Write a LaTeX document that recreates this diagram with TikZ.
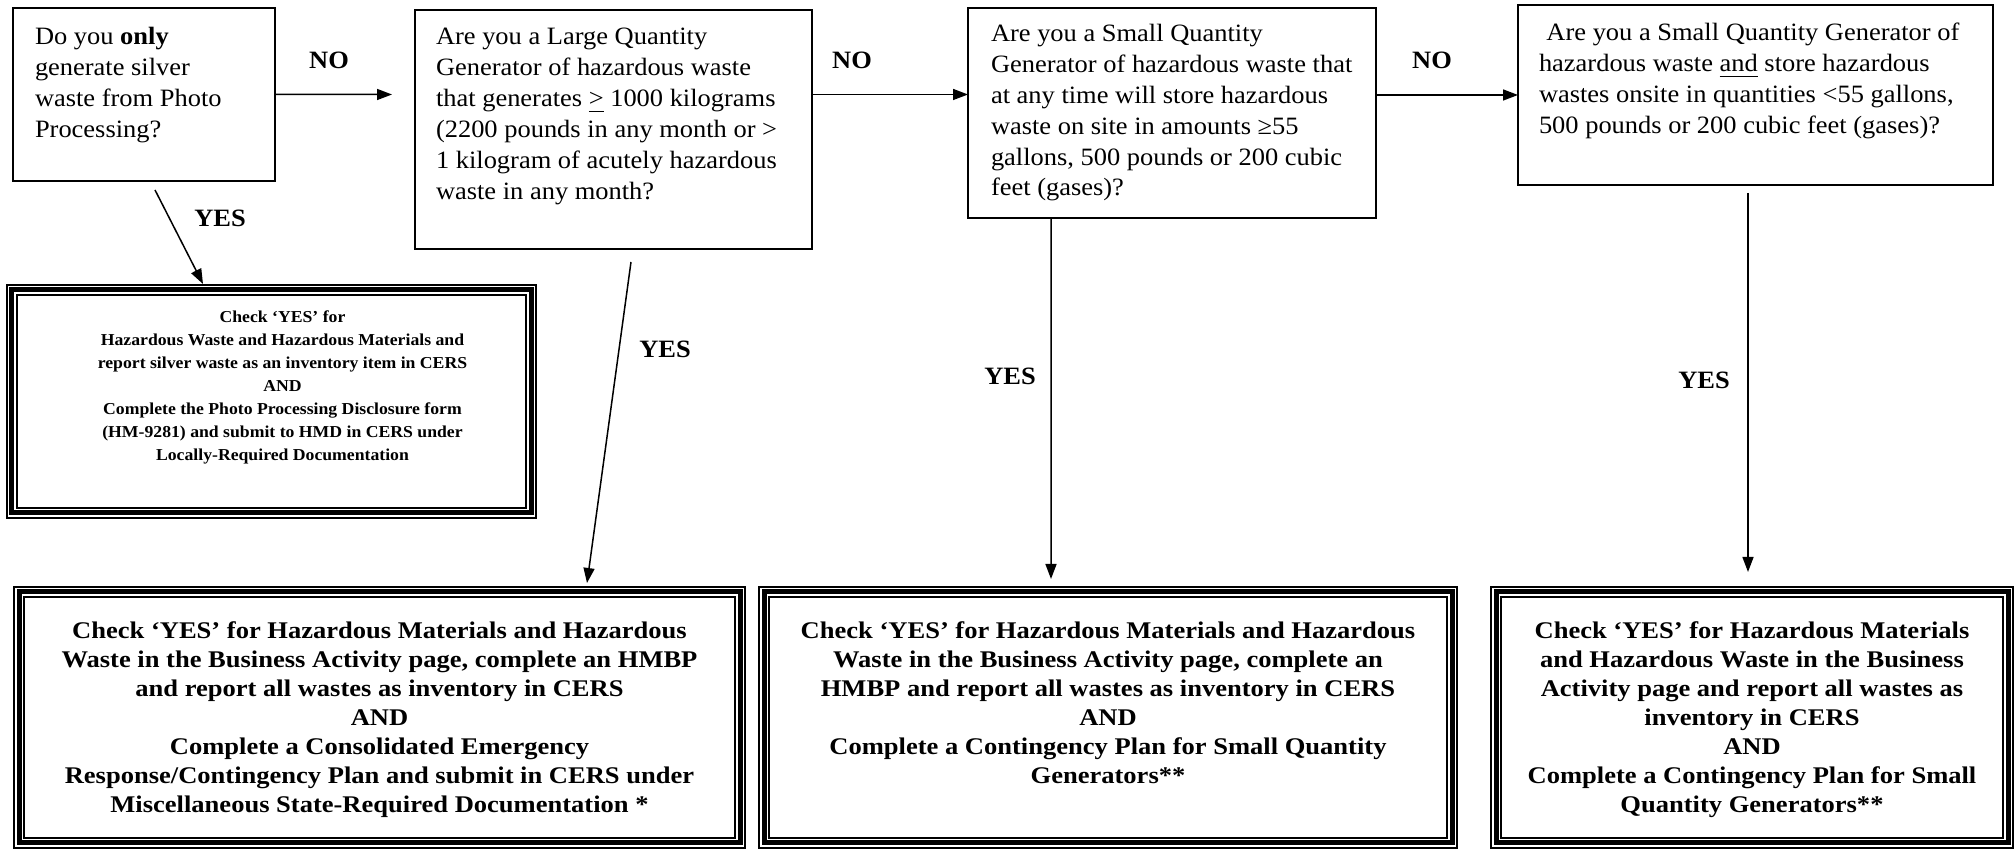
\documentclass[tikz,border=0pt]{standalone}
\usepackage{fontspec}
\setmainfont{Liberation Serif}[FakeStretch=1.06]
\newfontfamily\actfamily{Liberation Serif}[FakeStretch=1.11]
\usetikzlibrary{positioning, arrows.meta, calc}

\newcommand{\qfont}{\fontsize{7.1pt}{8.8pt}\selectfont}
\newcommand{\bigafont}{\actfamily\fontsize{6.8pt}{8.25pt}\selectfont\bfseries}
\newcommand{\smallafont}{\fontsize{4.75pt}{6.55pt}\selectfont\bfseries}

\begin{document}
\begin{tikzpicture}[
    question/.style={draw, line width=0.02cm, anchor=north west, outer sep=0pt, font=\qfont},
    action/.style={draw, double, double distance=0.08cm, line width=0.02cm,
                   postaction={draw, line width=0.05cm},
                   anchor=north west, outer sep=0.06cm, inner xsep=0.1cm},
    conn/.style={-{Triangle[length=0.15cm,width=0.11cm]}, line width=0.015cm},
    answer/.style={font=\qfont\bfseries, inner sep=0pt}
  ]
  \useasboundingbox (0,0) rectangle (20.14,-8.50);

  % questions along the top
  \node[question, inner xsep=0.22cm, inner ysep=0.19cm] (q1) at (0.13,-0.08)
    {\parbox[c][1.35cm][t]{2.18cm}{\raggedright
     Do you \textbf{only}\\ generate silver\\ waste from Photo\\ Processing?}};
  \node[question, inner xsep=0.21cm, inner ysep=0.18cm] (q2) at (4.15,-0.10)
    {\parbox[c][2.03cm][t]{3.55cm}{\raggedright
     Are you a Large Quantity\\ Generator of hazardous waste\\
     that generates \underline{>} 1000 kilograms\\ (2200 pounds in any month or >\\
     1 kilogram of acutely hazardous\\ waste in any month?}};
  \node[question, inner xsep=0.23cm, inner ysep=0.16cm] (q3) at (9.68,-0.08)
    {\parbox[c][1.78cm][t]{3.62cm}{\raggedright
     Are you a Small Quantity\\ Generator of hazardous waste that\\
     at any time will store hazardous\\ waste on site in amounts ≥55\\
     gallons, 500 pounds or 200 cubic\\ feet (gases)?}};
  \node[question, inner xsep=0.21cm, inner ysep=0.18cm] (q4) at (15.18,-0.05)
    {\parbox[c][1.44cm][t]{4.33cm}{\raggedright
     \hspace*{0.3em}Are you a Small Quantity Generator of\\
     hazardous waste \underline{and} store hazardous\\
     wastes onsite in quantities <55 gallons,\\
     500 pounds or 200 cubic feet (gases)?}};

  % what to do
  \node[action, inner ysep=0.21cm] (a1) at (0.06,-2.84)
    {\hspace*{0.22cm}\parbox[c][1.81cm][t]{4.77cm}{\centering\smallafont
     Check ‘YES’ for\\ Hazardous Waste and Hazardous Materials and\\
     report silver waste as an inventory item in CERS\\ AND\\
     Complete the Photo Processing Disclosure form\\
     (HM-9281) and submit to HMD in CERS under\\ Locally-Required Documentation}};
  \node[action, inner ysep=0.30cm] (a2) at (0.13,-5.86)
    {\parbox[c][1.91cm][t]{7.01cm}{\centering\bigafont
     Check ‘YES’ for Hazardous Materials and Hazardous\\
     Waste in the Business Activity page, complete an HMBP\\
     and report all wastes as inventory in CERS\\ AND\\
     Complete a Consolidated Emergency\\
     Response/Contingency Plan and submit in CERS under\\
     Miscellaneous State-Required Documentation *}};
  \node[action, inner ysep=0.30cm] (a3) at (7.58,-5.86)
    {\parbox[c][1.91cm][t]{6.68cm}{\centering\bigafont
     Check ‘YES’ for Hazardous Materials and Hazardous\\
     Waste in the Business Activity page, complete an\\
     HMBP and report all wastes as inventory in CERS\\ AND\\
     Complete a Contingency Plan for Small Quantity\\ Generators**}};
  \node[action, inner ysep=0.30cm] (a4) at (14.90,-5.86)
    {\parbox[c][1.91cm][t]{4.92cm}{\centering\bigafont
     Check ‘YES’ for Hazardous Materials\\ and Hazardous Waste in the Business\\
     Activity page and report all wastes as\\ inventory in CERS\\ AND\\
     Complete a Contingency Plan for Small\\ Quantity Generators**}};

  % NO arrows
  \coordinate (no1end) at (3.92,-0.945);
  \draw[conn] (q1.east) -- (no1end);
  \draw[conn] (q2.east |- q1.east) -- (q3.west |- q1.east);
  \draw[conn] (q3.east |- q4.west) -- (q4.west);
  \node[answer] (no1) at (3.29,-0.60) {NO};
  \node[answer] (no2) at (8.52,-0.60) {NO};
  \node[answer] (no3) at (14.32,-0.60) {NO};

  % YES arrows
  \coordinate (yes1start) at (1.55,-1.90);
  \coordinate (yes2start) at (6.31,-2.62);
  \coordinate (yes4start) at (17.48,-1.93);
  \draw[conn] (yes1start) -- ([xshift=1.97cm]a1.north west);
  \draw[conn] (yes2start) -- ([xshift=5.74cm,yshift=0.03cm]a2.north west);
  \draw[conn] ([xshift=-1.21cm]q3.south) -- ([xshift=-0.57cm,yshift=0.07cm]a3.north);
  \draw[conn] (yes4start) -- ($(yes4start |- a4.north)+(0,0.14)$);
  \node[answer] (yes1) at (2.20,-2.18) {YES};
  \node[answer] (yes2) at (6.65,-3.49) {YES};
  \node[answer] (yes3) at (10.10,-3.76) {YES};
  \node[answer] (yes4) at (17.04,-3.80) {YES};
\end{tikzpicture}
\end{document}
